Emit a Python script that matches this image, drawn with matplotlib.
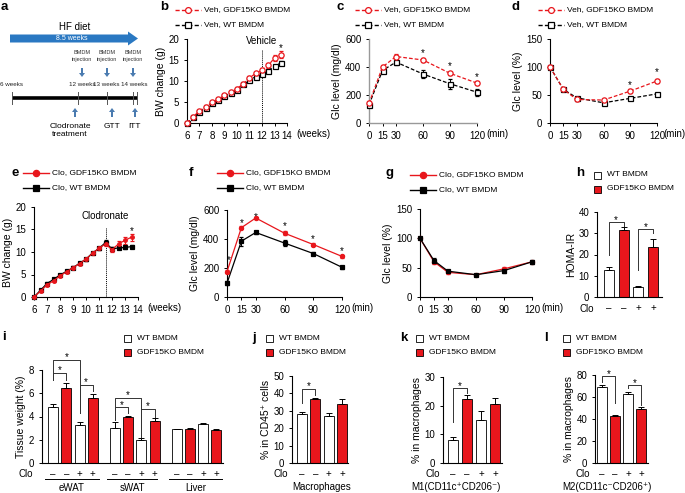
import matplotlib
matplotlib.use("Agg")
import matplotlib.pyplot as plt
from matplotlib.patches import FancyArrow, Rectangle

plt.rcParams['font.family'] = ['Liberation Sans', 'DejaVu Sans']
plt.rcParams['axes.linewidth'] = 0.8

W, H = 685, 493
RED = '#e8161c'

# ---------------- data ----------------
weeks = [6, 6.5, 7, 7.5, 8, 8.5, 9, 9.5, 10, 10.5, 11, 11.5, 12, 12.5, 13, 13.5]
week_ticks = [6, 7, 8, 9, 10, 11, 12, 13, 14]

bw_veh_ko = [0, 1.5, 2.9, 3.9, 4.9, 5.7, 6.6, 7.3, 8.2, 9.3, 10.8, 11.8, 12.6, 13.7, 15.5, 16.3]
bw_veh_ko_err = [0, 0.2, 0.3, 0.3, 0.3, 0.3, 0.3, 0.3, 0.3, 0.3, 0.4, 0.4, 0.4, 0.5, 0.7, 0.8]
bw_veh_wt = [0, 1.4, 2.7, 3.6, 4.7, 5.5, 6.4, 7.2, 7.9, 9.2, 10.3, 11.0, 11.6, 12.5, 13.5, 14.3]
bw_veh_wt_err = [0, 0.2, 0.2, 0.2, 0.3, 0.3, 0.3, 0.3, 0.3, 0.3, 0.3, 0.3, 0.4, 0.4, 0.4, 0.5]

bw_clo_ko = [0, 1.3, 2.7, 3.6, 4.7, 5.6, 6.5, 7.4, 8.4, 9.7, 10.8, 11.8, 10.5, 11.8, 12.6, 13.3]
bw_clo_ko_err = [0, 0.2, 0.3, 0.3, 0.3, 0.3, 0.3, 0.3, 0.3, 0.3, 0.3, 0.4, 0.5, 0.7, 0.8, 0.8]
bw_clo_wt = [0, 1.5, 3.0, 3.9, 4.9, 5.7, 6.5, 7.5, 8.4, 9.8, 10.8, 12.1, 10.7, 10.9, 11.0, 11.2]
bw_clo_wt_err = [0, 0.2, 0.3, 0.3, 0.3, 0.3, 0.3, 0.3, 0.3, 0.3, 0.3, 0.5, 0.3, 0.3, 0.3, 0.3]

minutes = [0, 15, 30, 60, 90, 120]

gtt_veh_ko = [140, 400, 475, 450, 355, 285]
gtt_veh_ko_err = [15, 15, 15, 12, 12, 15]
gtt_veh_wt = [130, 375, 435, 350, 280, 220]
gtt_veh_wt_err = [10, 20, 20, 28, 35, 25]

itt_veh_ko = [100, 60, 42, 41, 57, 75]
itt_veh_ko_err = [0, 3, 3, 2, 3, 3]
itt_veh_wt = [100, 60, 45, 36, 44, 52]
itt_veh_wt_err = [0, 2, 2, 2, 2, 2]

gtt_clo_ko = [175, 478, 545, 440, 362, 280]
gtt_clo_ko_err = [12, 12, 10, 12, 10, 10]
gtt_clo_wt = [95, 385, 445, 372, 300, 205]
gtt_clo_wt_err = [12, 30, 10, 20, 10, 10]

itt_clo_ko = [100, 60, 42, 38, 48, 60]
itt_clo_ko_err = [0, 3, 2, 2, 3, 2]
itt_clo_wt = [100, 62, 44, 38, 45, 60]
itt_clo_wt_err = [0, 4, 2, 2, 4, 3]

clo_signs = ['\u2013', '\u2013', '+', '+']

homa = [12.5, 31.5, 4.8, 23.5]
homa_err = [1.5, 1.5, 0.6, 3.8]

tissues = ['eWAT', 'sWAT', 'Liver']
tissue_wt = [[4.85, 6.45, 3.3, 5.6], [3.05, 3.95, 2.0, 3.6], [2.9, 2.95, 3.35, 2.85]]
tissue_err = [[0.2, 0.45, 0.25, 0.3], [0.45, 0.1, 0.12, 0.25], [0.03, 0.1, 0.1, 0.1]]

macro = [28, 37, 27, 34]
macro_err = [1.5, 0.5, 1.5, 3.0]
m1 = [8, 22.3, 15, 20.5]
m1_err = [1.0, 1.3, 3.0, 2.2]
m2 = [69, 42.5, 62.5, 49]
m2_err = [2.0, 1.5, 2.5, 2.0]

# significance brackets: (bar a, bar b, top, leg a end, leg b end)
br_h = [(0, 1, 35.3, 20, 33.5), (2, 3, 32, 12.7, 30)]
br_i = [(0, 1, 7.75, 7.1, 7.1), (0, 2, 8.9, 7.1, 4.3), (2, 3, 6.7, 4.3, 6.2),
        (4, 5, 4.8, 3.7, 4.3), (4, 6, 5.6, 3.7, 2.25), (6, 7, 4.65, 2.25, 4.0)]
br_j = [(0, 1, 42.5, 34.5, 39)]
br_k = [(0, 1, 26.1, 14.3, 24.4)]
br_l = [(0, 1, 79, 73.6, 54.5), (2, 3, 71, 68, 52.5)]

# ---------------- figure ----------------
fig = plt.figure(figsize=(W / 100, H / 100), dpi=100)
ov = fig.add_axes([0, 0, 1, 1])
ov.set_xlim(0, W)
ov.set_ylim(H, 0)
ov.axis('off')


def pax(l, t, r, b):
    ax = fig.add_axes([l / W, 1 - b / H, (r - l) / W, (b - t) / H])
    for s in ('top', 'right'):
        ax.spines[s].set_visible(False)
    ax.tick_params(direction='out', length=2.5, width=0.7, pad=3, labelsize=7)
    return ax


def star(ax, x, y, fs=7):
    ax.annotate('*', (x, y), xytext=(0, -0.58 * fs), textcoords='offset points',
                ha='center', va='baseline', fontsize=fs, annotation_clip=False)


def series(ax, x, y, e, color, marker, dashed, filled, ms):
    ax.errorbar(x, y, yerr=e, color=color, ls=(0, (3, 1.6)) if dashed else '-', lw=0.9,
                marker=marker, ms=ms, mfc=color if filled else 'white', mec=color, mew=0.9,
                capsize=1.3, elinewidth=0.7, capthick=0.7, clip_on=False, zorder=3)


def unit_label(ax, s, dx=6.5):
    ax.annotate(s, xy=(1, 0), xycoords='axes fraction', xytext=(dx, -8), textcoords='offset points',
                ha='left', va='center', fontsize=7)


def line_legend(x0, y0, labels, dashed, filled):
    specs = [(RED, 'o'), ('black', 's')]
    for k, (lab, (c, m)) in enumerate(zip(labels, specs)):
        y = y0 + k * 14.5
        ov.plot([x0, x0 + 26], [y, y], color=c, lw=1.0, ls=(0, (3, 1.6)) if dashed else '-')
        ov.plot([x0 + 13], [y], marker=m, ms=4.5 if filled else 4.2, mfc=c if filled else 'white',
                mec=c, mew=0.9)
        ov.text(x0 + 29, y, lab, fontsize=6, va='center', ha='left')


def bar_legend(x0, y0):
    for k, (lab, c) in enumerate([('WT BMDM', 'white'), ('GDF15KO BMDM', RED)]):
        y = y0 + k * 14
        ov.add_patch(Rectangle((x0 - 3.5, y - 3.5), 7, 7, facecolor=c, edgecolor='black', lw=0.6))
        ov.text(x0 + 9, y, lab, fontsize=6, va='center', ha='left')


def letter(x, y, s):
    ov.text(x, y, s, fontsize=9.5, fontweight='bold', ha='left', va='center')


def bars(ax, pos, vals, errs, width):
    cols = ['white', RED] * (len(vals) // 2)
    ax.bar(pos, vals, width, color=cols, edgecolor='black', lw=0.6, zorder=2)
    ax.errorbar(pos, vals, yerr=[[0] * len(vals), errs], fmt='none', ecolor='black',
                elinewidth=0.7, capsize=2, capthick=0.7, zorder=3)
    ax.set_xticks(pos, clo_signs * (len(vals) // 4))
    ax.tick_params(axis='x', length=0, pad=4.5)


def brackets(ax, pos, brs, dy):
    for a, b, top, la, lb in brs:
        ax.plot([pos[a], pos[a], pos[b], pos[b]], [la, top, top, lb], color='#333333', lw=0.7,
                clip_on=False, zorder=4)
        star(ax, (pos[a] + pos[b]) / 2, top + dy)


# ---------------- panel a (schematic) ----------------
letter(1, 7, 'a')
ov.text(75, 27, 'HF diet', fontsize=7, ha='center', va='center')
ov.add_patch(FancyArrow(10, 38.5, 118, 0, width=8, head_width=14, head_length=10,
                        length_includes_head=False, color='#2a78c2', lw=0))
ov.text(72, 39, '8.5 weeks', fontsize=5, color='white', ha='center', va='center')
for x in (82, 107, 133):
    ov.text(x, 56, 'BMDM\ninjection', fontsize=4, color='#333333', ha='center', va='center',
            linespacing=1.4)
    ov.add_patch(FancyArrow(x, 68, 0, 5, width=2, head_width=6, head_length=4, color='#4a7bb0', lw=0))
ov.text(0, 85, '6 weeks', fontsize=4.5, ha='left', va='center', color='#222222')
for x, s in ((82, '12 weeks'), (106, '13 weeks'), (134, '14 weeks')):
    ov.text(x, 85, s, fontsize=4.5, ha='center', va='center', color='#222222')
ov.plot([12, 138], [98, 98], color='black', lw=2.6, solid_capstyle='butt')
for x in (12, 78, 107, 133, 137):
    ov.plot([x, x], [92, 104], color='#555555', lw=0.7)
for x in (75, 112, 135):
    ov.add_patch(FancyArrow(x, 117, 0, -5, width=2, head_width=6, head_length=4, color='#4a7bb0', lw=0))
ov.text(70, 130, 'Clodronate\ntreatment', fontsize=6, ha='center', va='center', linespacing=1.2)
ov.text(112, 126, 'GTT', fontsize=6, ha='center', va='center')
ov.text(135, 126, 'ITT', fontsize=6, ha='center', va='center')

# ---------------- panel b ----------------
letter(160, 7, 'b')
line_legend(175, 10, ['Veh, GDF15KO BMDM', 'Veh, WT BMDM'], True, False)
ax = pax(187, 39, 287, 123)
series(ax, weeks, bw_veh_wt, bw_veh_wt_err, 'black', 's', True, False, 3.6)
series(ax, weeks, bw_veh_ko, bw_veh_ko_err, RED, 'o', True, False, 3.8)
ax.set_xlim(6, 14)
ax.set_ylim(0, 20)
ax.set_xticks(week_ticks)
ax.set_yticks([0, 5, 10, 15, 20])
ax.axvline(12, ymax=0.87, color='black', lw=0.7, ls=(0, (1, 1)))
ax.text(12, 19.5, 'Vehicle', fontsize=7, ha='center', va='center')
star(ax, 13.5, 18.5)
ax.set_ylabel('BW change (g)', fontsize=7.5, labelpad=2)
unit_label(ax, '(weeks)')

# ---------------- panel c ----------------
letter(337, 7, 'c')
line_legend(355, 10, ['Veh, GDF15KO BMDM', 'Veh, WT BMDM'], True, False)
ax = pax(369, 39, 477, 123)
series(ax, minutes, gtt_veh_wt, gtt_veh_wt_err, 'black', 's', True, False, 3.6)
series(ax, minutes, gtt_veh_ko, gtt_veh_ko_err, RED, 'o', True, False, 3.8)
ax.set_xlim(0, 120)
ax.set_ylim(0, 600)
ax.set_xticks(minutes)
ax.set_yticks([0, 200, 400, 600])
for s in ('left', 'bottom'):
    ax.spines[s].set_color('#999999')
    ax.spines[s].set_linewidth(1.0)
for x, y in ((60, 520), (90, 428), (120, 350)):
    star(ax, x, y)
ax.set_ylabel('Glc level (mg/dl)', fontsize=7.5, labelpad=2)
unit_label(ax, '(min)')

# ---------------- panel d ----------------
letter(512, 7, 'd')
line_legend(538, 10, ['Veh, GDF15KO BMDM', 'Veh, WT BMDM'], True, False)
ax = pax(550, 39, 657, 123)
series(ax, minutes, itt_veh_wt, itt_veh_wt_err, 'black', 's', True, False, 3.6)
series(ax, minutes, itt_veh_ko, itt_veh_ko_err, RED, 'o', True, False, 3.8)
ax.set_xlim(0, 120)
ax.set_ylim(0, 150)
ax.set_xticks(minutes)
ax.set_yticks([0, 50, 100, 150])
for x, y in ((90, 73), (120, 95)):
    star(ax, x, y)
ax.set_ylabel('Glc level (%)', fontsize=7.5, labelpad=2)
unit_label(ax, '(min)', dx=4.8)

# ---------------- panel e ----------------
letter(12, 173, 'e')
line_legend(23, 173, ['Clo, GDF15KO BMDM', 'Clo, WT BMDM'], False, True)
ax = pax(34, 207, 138, 297)
series(ax, weeks, bw_clo_wt, bw_clo_wt_err, 'black', 's', False, True, 3.2)
series(ax, weeks, bw_clo_ko, bw_clo_ko_err, RED, 'o', False, True, 2.6)
ax.set_xlim(6, 14)
ax.set_ylim(0, 20)
ax.set_xticks(week_ticks)
ax.set_yticks([0, 5, 10, 15, 20])
ax.axvline(11.5, ymax=0.78, color='black', lw=0.7, ls=(0, (1, 1)))
ax.text(11.5, 18.0, 'Clodronate', fontsize=7, ha='center', va='center')
star(ax, 13.5, 15.2)
ax.set_ylabel('BW change (g)', fontsize=7.5, labelpad=2)
unit_label(ax, '(weeks)')

# ---------------- panel f ----------------
letter(189, 173, 'f')
line_legend(217, 173, ['Clo, GDF15KO BMDM', 'Clo, WT BMDM'], False, True)
ax = pax(227, 210, 342, 297)
series(ax, minutes, gtt_clo_wt, gtt_clo_wt_err, 'black', 's', False, True, 3.2)
series(ax, minutes, gtt_clo_ko, gtt_clo_ko_err, RED, 'o', False, True, 3.0)
ax.set_xlim(0, 120)
ax.set_ylim(0, 600)
ax.set_xticks(minutes)
ax.set_yticks([0, 200, 400, 600])
for x, y in ((2, 276), (15, 531), (30, 568), (60, 510), (90, 420), (120, 338)):
    star(ax, x, y)
ax.set_ylabel('Glc level (mg/dl)', fontsize=7.5, labelpad=2)
unit_label(ax, '(min)')

# ---------------- panel g ----------------
letter(386, 173, 'g')
line_legend(410, 175, ['Clo, GDF15KO BMDM', 'Clo, WT BMDM'], False, True)
ax = pax(420, 209, 532, 297)
series(ax, minutes, itt_clo_ko, itt_clo_ko_err, RED, 'o', False, True, 3.0)
series(ax, minutes, itt_clo_wt, itt_clo_wt_err, 'black', 's', False, True, 3.2)
ax.set_xlim(0, 120)
ax.set_ylim(0, 150)
ax.set_xticks(minutes)
ax.set_yticks([0, 50, 100, 150])
ax.set_ylabel('Glc level (%)', fontsize=7.5, labelpad=2)
unit_label(ax, '(min)')

# ---------------- panel h ----------------
letter(576, 173, 'h')
bar_legend(598, 175)
ax = pax(597, 212, 662, 297)
pos4 = [0, 1, 2, 3]
bars(ax, pos4, homa, homa_err, 0.68)
ax.set_xlim(-0.8, 3.6)
ax.set_ylim(0, 40)
ax.set_yticks([0, 10, 20, 30, 40])
brackets(ax, pos4, br_h, 2.3)
ax.set_ylabel('HOMA-IR', fontsize=7.5, labelpad=2)
ov.text(587, 309, 'Clo', fontsize=7, ha='center', va='center')

# ---------------- panel i ----------------
letter(2, 337, 'i')
bar_legend(128, 338)
ax = pax(42, 370, 223, 463)
pos12 = [g * 4.65 + k for g in range(3) for k in range(4)]
vals = [v for grp in tissue_wt for v in grp]
errs = [v for grp in tissue_err for v in grp]
bars(ax, pos12, vals, errs, 0.75)
ax.set_xlim(-0.83, 12.8)
ax.set_ylim(0, 8)
ax.set_yticks([0, 2, 4, 6, 8])
brackets(ax, pos12, br_i, 0.45)
ax.set_ylabel('Tissue weight (%)', fontsize=7.5, labelpad=2)
ov.text(26, 474, 'Clo', fontsize=7, ha='center', va='center')
for name, (x0, x1) in zip(tissues, [(45, 99), (107, 157), (169, 222)]):
    ov.plot([x0, x1], [479, 479], color='black', lw=0.7)
    ov.text((x0 + x1) / 2, 488, name, fontsize=7, ha='center', va='center')

# ---------------- panel j ----------------
letter(252, 338, 'j')
bar_legend(270, 338)
ax = pax(292, 376, 348, 463)
bars(ax, pos4, macro, macro_err, 0.75)
ax.set_xlim(-0.75, 3.45)
ax.set_ylim(0, 50)
ax.set_yticks([0, 10, 20, 30, 40, 50])
brackets(ax, pos4, br_j, 3.5)
ax.set_ylabel('% in CD45\u207a cells', fontsize=7.5, labelpad=2)
ov.text(281, 474, 'Clo', fontsize=7, ha='center', va='center')
ov.text(322, 487, 'Macrophages', fontsize=7, ha='center', va='center')

# ---------------- panel k ----------------
letter(400, 338, 'k')
bar_legend(420, 338)
ax = pax(443, 377, 502, 463)
bars(ax, pos4, m1, m1_err, 0.7)
ax.set_xlim(-0.71, 3.5)
ax.set_ylim(0, 30)
ax.set_yticks([0, 10, 20, 30])
brackets(ax, pos4, br_k, 1.8)
ax.set_ylabel('% in macrophages', fontsize=7.5, labelpad=2)
ov.text(433, 474, 'Clo', fontsize=7, ha='center', va='center')
ov.text(456, 487, 'M1(CD11c\u207aCD206\u207b)', fontsize=7, ha='center', va='center')

# ---------------- panel l ----------------
letter(544, 338, 'l')
bar_legend(567, 338)
ax = pax(595, 375, 648, 463)
bars(ax, pos4, m2, m2_err, 0.77)
ax.set_xlim(-0.54, 3.54)
ax.set_ylim(0, 80)
ax.set_yticks([0, 20, 40, 60, 80])
brackets(ax, pos4, br_l, 4.5)
ax.set_ylabel('% in macrophages', fontsize=7.5, labelpad=2)
ov.text(583, 474, 'Clo', fontsize=7, ha='center', va='center')
ov.text(607, 487, 'M2(CD11c\u207bCD206\u207a)', fontsize=7, ha='center', va='center')

fig.savefig('out.png', dpi=100)
